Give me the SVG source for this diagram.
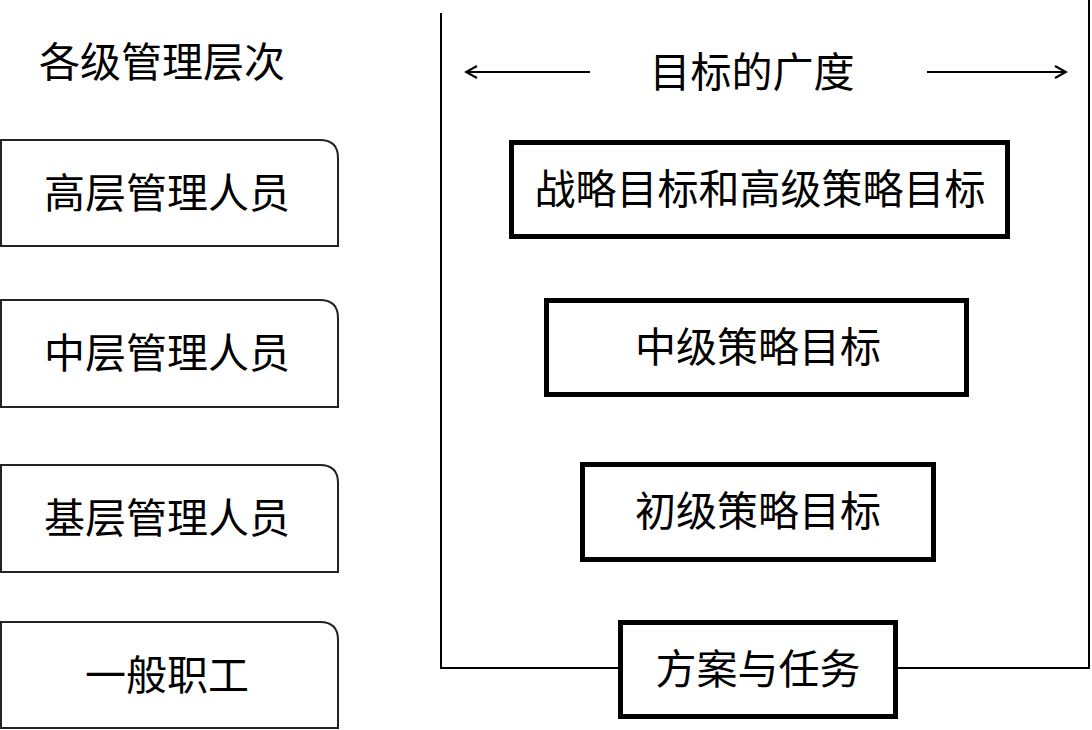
<svg xmlns="http://www.w3.org/2000/svg" width="1092" height="730" viewBox="0 0 1092 730">
<style>
text{font-family:"Noto Sans CJK SC","Liberation Sans",sans-serif;font-size:41px;fill:#000;text-anchor:middle;dominant-baseline:central}
.lvl{fill:#fff;stroke:#222;stroke-width:2}
.goal{fill:#fff;stroke:#000;stroke-width:5}
.ln{fill:none;stroke:#000;stroke-width:2}
</style>
<defs>
<marker id="ah" markerWidth="14" markerHeight="14" refX="12" refY="7" orient="auto" markerUnits="userSpaceOnUse">
<path d="M1,1 L12,7 L1,13" fill="none" stroke="#000" stroke-width="2"/>
</marker>
</defs>
<rect width="1092" height="730" fill="#fff"/>
<g id="connectors">
<path class="ln" d="M441,13 V668 H620 M897,668 H1089 V0"/>
<line class="ln" x1="590" y1="72" x2="466" y2="72" marker-end="url(#ah)"/>
<line class="ln" x1="927" y1="72" x2="1066" y2="72" marker-end="url(#ah)"/>
</g>
<g id="title-levels"><text x="162" y="59">各级管理层次</text></g>
<g id="title-breadth"><text x="752" y="69">目标的广度</text></g>
<g id="n-top"><path class="lvl" d="M1,140 H320 Q338,140 338,158 V246 H1 Z"/><text x="167" y="190">高层管理人员</text></g>
<g id="n-mid"><path class="lvl" d="M1,300 H320 Q338,300 338,318 V407 H1 Z"/><text x="167" y="350">中层管理人员</text></g>
<g id="n-base"><path class="lvl" d="M1,465 H320 Q338,465 338,483 V572 H1 Z"/><text x="167" y="515">基层管理人员</text></g>
<g id="n-staff"><path class="lvl" d="M1,622 H320 Q338,622 338,640 V728 H1 Z"/><text x="167" y="672">一般职工</text></g>
<g id="g-strategic"><rect class="goal" x="511.5" y="142.5" width="496" height="94"/><text x="760" y="186">战略目标和高级策略目标</text></g>
<g id="g-mid"><rect class="goal" x="546.5" y="300.5" width="420" height="94"/><text x="758" y="344">中级策略目标</text></g>
<g id="g-low"><rect class="goal" x="582.5" y="464.5" width="351" height="95"/><text x="758" y="508">初级策略目标</text></g>
<g id="g-plan"><rect class="goal" x="620.5" y="622.5" width="275" height="94"/><text x="758" y="666">方案与任务</text></g>
</svg>
